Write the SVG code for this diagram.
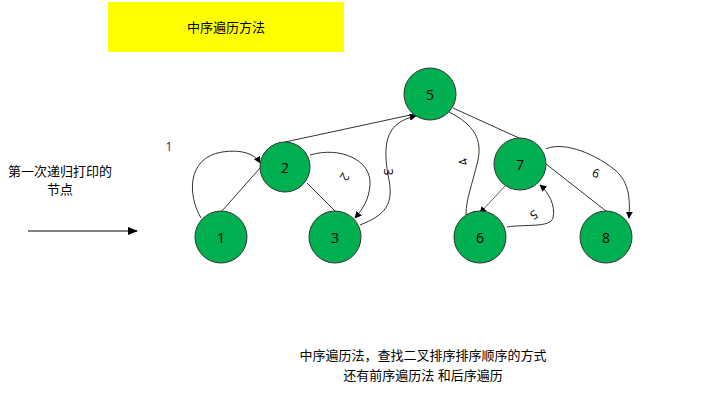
<svg xmlns="http://www.w3.org/2000/svg" width="728" height="406" viewBox="0 0 728 406">
<defs>
<marker id="ah" viewBox="0 0 10 10" refX="9" refY="5" markerWidth="7" markerHeight="7" orient="auto" markerUnits="userSpaceOnUse"><path d="M0,0 L10,5 L0,10 z" fill="#000"/></marker>
<marker id="ah2" viewBox="0 0 10 10" refX="9" refY="5" markerWidth="10" markerHeight="10" orient="auto" markerUnits="userSpaceOnUse"><path d="M0,1 L10,5 L0,9 z" fill="#000"/></marker>
</defs>
<style>
.node circle{fill:#00b050;stroke:#333;stroke-width:1}
.node text{font-family:"Open Sans","Liberation Sans",sans-serif;font-size:14px;fill:#000;text-anchor:middle;dominant-baseline:central}
.line{stroke:#333;stroke-width:1;fill:none}
.curve{stroke:#333;stroke-width:1;fill:none;marker-end:url(#ah)}
.lbl{font-family:"Open Sans","Liberation Sans",sans-serif;font-size:12px;fill:#000;text-anchor:middle;dominant-baseline:central}
.cn{font-family:"Liberation Sans","Noto Sans CJK SC",sans-serif;font-size:13px;fill:#000;text-anchor:middle}
</style>
<rect x="108" y="2" width="236" height="50" fill="#ffff00"/>
<text class="cn" x="226" y="32">中序遍历方法</text>
<text class="cn" x="60" y="176">第一次递归打印的</text>
<text class="cn" x="60" y="194">节点</text>
<text class="cn" x="423" y="360">中序遍历法，查找二叉排序排序顺序的方式</text>
<text class="cn" x="423" y="380">还有前序遍历法 和后序遍历</text>
<text x="169" y="151" font-family="'Open Sans','Liberation Sans',sans-serif" font-size="12" fill="#3a1a78" text-anchor="middle">1</text>
<g id="connectors">
<line x1="28" y1="231" x2="137" y2="231" stroke="#000" stroke-width="1" marker-end="url(#ah2)"/>
<line class="line" x1="285" y1="142" x2="415" y2="114"/>
<line class="line" x1="453" y1="108" x2="519" y2="138"/>
<line class="line" x1="222" y1="211" x2="260" y2="168"/>
<line class="line" x1="307" y1="183" x2="335" y2="211"/>
<line class="line" x1="546" y1="164" x2="606" y2="211"/>
<line x1="505" y1="186" x2="480" y2="213" stroke="#333" stroke-width="0.8" marker-end="url(#ah)"/>
<path class="curve" d="M201,218 C188,196 186,158 222,152 C242,149 255,154 260,163"/>
<path class="curve" d="M310,155 C340,146 372,160 370,185 C369,200 362,210 355,218"/>
<path class="curve" d="M360,225 C385,215 395,205 388,175 C382,140 388,122 416,116"/>
<path class="curve" d="M449,112 C475,125 482,140 478,160 C472,185 466,200 466,214 C470,216 475,214 480,213"/>
<path class="curve" d="M507,227 C525,224 550,228 553,218 C556,205 548,192 540,185"/>
<path class="curve" d="M546,149 C560,142 590,150 615,170 C630,183 630,200 629,218"/>
</g>
<text class="lbl" transform="translate(345,177) rotate(120)">2</text>
<text class="lbl" transform="translate(388,172) rotate(90)">3</text>
<text class="lbl" transform="translate(463,162) rotate(-110)">4</text>
<text class="lbl" transform="translate(534,215) rotate(150)">5</text>
<text class="lbl" transform="translate(596,173) rotate(20)">6</text>
<g id="node5" class="node"><circle cx="430" cy="94" r="26"/><text x="430" y="94">5</text></g>
<g id="node2" class="node"><circle cx="285" cy="167" r="25"/><text x="285" y="167">2</text></g>
<g id="node1" class="node"><circle cx="221" cy="237" r="26"/><text x="221" y="237">1</text></g>
<g id="node3" class="node"><circle cx="335" cy="237" r="26"/><text x="335" y="237">3</text></g>
<g id="node7" class="node"><circle cx="520" cy="164" r="26"/><text x="520" y="164">7</text></g>
<g id="node6" class="node"><circle cx="480" cy="237" r="26"/><text x="480" y="237">6</text></g>
<g id="node8" class="node"><circle cx="606" cy="237" r="26"/><text x="606" y="237">8</text></g>
</svg>
